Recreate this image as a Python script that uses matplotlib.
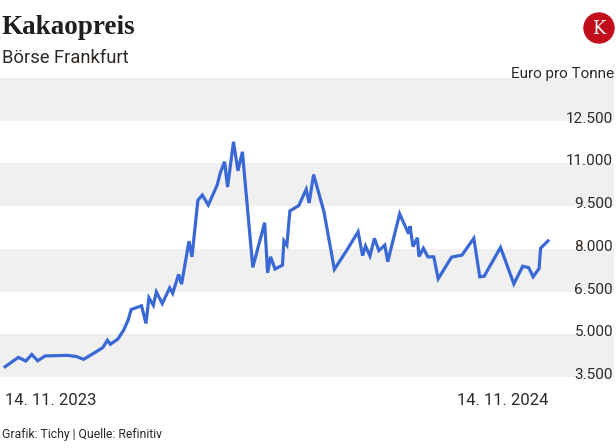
import matplotlib
matplotlib.use("Agg")
import matplotlib.pyplot as plt
from matplotlib.patches import Ellipse
import pandas as pd

# ---- data ----
start_date = "2023-11-14"
day_offsets = [0, 9, 14, 18, 22, 27, 42, 48, 53, 64, 66, 69, 71, 76, 80, 83, 85, 92,
               95, 97, 100, 102, 106, 111, 113, 117, 119, 124, 126, 130, 133, 137, 143,
               145, 148, 150, 154, 157, 160, 167, 175, 177, 179, 182, 187, 188, 190, 192,
               198, 203, 205, 208, 215, 222, 230, 238, 241, 243, 246, 249, 252, 256, 258,
               266, 272, 273, 275, 278, 279, 282, 285, 289, 292, 301, 308, 316, 320, 323,
               334, 343, 349, 353, 356, 360, 361, 366]
prices = [3860, 4190, 4060, 4290, 4070, 4240, 4260, 4220, 4120, 4470, 4540, 4790, 4650,
          4830, 5150, 5500, 5870, 6000, 5380, 6280, 6020, 6490, 6080, 6630, 6440, 7100,
          6760, 8270, 7720, 9710, 9890, 9540, 10240, 10650, 11060, 10170, 11760, 10740,
          11410, 7350, 8920, 7160, 7720, 7290, 7430, 8280, 8130, 9330, 9520, 10090, 9610,
          10610, 9300, 7280, 7920, 8600, 7760, 8100, 7750, 8370, 7940, 8130, 7550, 9230,
          8530, 8800, 8080, 8390, 7730, 8020, 7720, 7720, 6950, 7710, 7780, 8370, 7020,
          7040, 8050, 6770, 7390, 7340, 7020, 7310, 8020, 8280]
y_ticks = [3500, 5000, 6500, 8000, 9500, 11000, 12500]
y_tick_labels = ["3.500", "5.000", "6.500", "8.000", "9.500", "11.000", "12.500"]
x_labels = ["14. 11. 2023", "14. 11. 2024"]

title = "Kakaopreis"
subtitle = "Börse Frankfurt"
unit = "Euro pro Tonne"
footer = "Grafik: Tichy | Quelle: Refinitiv"

dates = pd.Timestamp(start_date) + pd.to_timedelta(day_offsets, unit="D")

# ---- style ----
W, H = 616, 448
fig = plt.figure(figsize=(W / 100, H / 100), dpi=100)
txt = "#2f2925"
band = "#f0f0f0"
blue = "#3a69d6"

ax = fig.add_axes([0, 1 - 377 / H, 614 / W, (377 - 78) / H])
ax.set_ylim(3500, 14000)
x0 = pd.Timestamp(start_date) - pd.Timedelta(days=3.4)
x1 = pd.Timestamp(start_date) + pd.Timedelta(days=410.5)
ax.set_xlim(x0, x1)

band_edges = [3500, 5000, 6500, 8000, 9500, 11000, 12500, 14000]
for i in range(len(band_edges) - 1):
    if i % 2 == 0:
        ax.axhspan(band_edges[i], band_edges[i + 1], color=band, lw=0, zorder=0)

ax.plot(dates, prices, color=blue, lw=2.3, solid_joinstyle="miter", zorder=3)

for s in ax.spines.values():
    s.set_visible(False)
ax.set_xticks([])
ax.set_yticks([])

for v, lab in zip(y_ticks, y_tick_labels):
    ax.annotate(lab, xy=(1.0, v), xycoords=("axes fraction", "data"),
                xytext=(-1, 2), textcoords="offset pixels",
                ha="right", va="center", fontsize=11, family="Roboto", color=txt)

fig.text(5 / W, 1 - 400 / H, x_labels[0], ha="left", va="center",
         fontsize=12, family="Roboto", color=txt)
fig.text(548 / W, 1 - 400 / H, x_labels[1], ha="right", va="center",
         fontsize=12, family="Roboto", color=txt)

fig.text(2 / W, 1 - 34 / H, title, ha="left", va="baseline", fontsize=19.5,
         family="Liberation Serif", weight="bold", color="#1f1f1f")
fig.text(2 / W, 1 - 63 / H, subtitle, ha="left", va="baseline", fontsize=13.2,
         family="Roboto", color=txt)
fig.text(614 / W, 1 - 74 / H, unit, ha="right", va="center", fontsize=11,
         family="Roboto", color=txt)
fig.text(2 / W, 1 - 434 / H, footer, ha="left", va="center", fontsize=8.8,
         family="Roboto", color=txt)

# logo
lx, ly, r = 599, 28, 15
logo = Ellipse((lx / W, 1 - ly / H), 2 * r / W, 2 * r / H, transform=fig.transFigure,
               color="#c20e1a", zorder=5)
fig.patches.append(logo)
fig.text(lx / W, 1 - (ly + 0.5) / H, "K", ha="center", va="center", fontsize=13,
         family="DejaVu Serif", color="white", zorder=6)

fig.savefig("out.png", dpi=100)
